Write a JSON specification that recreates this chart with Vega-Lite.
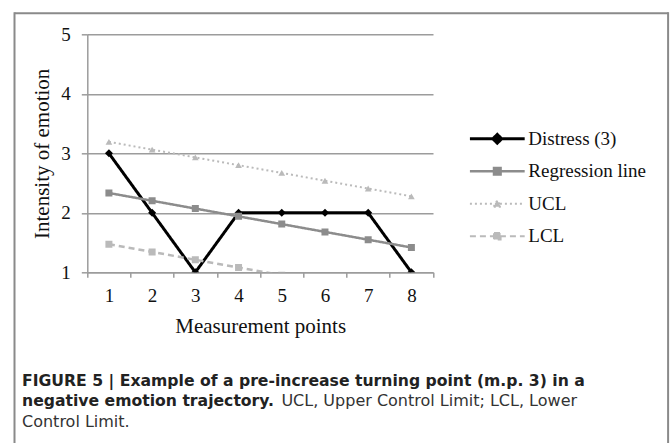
{
  "$schema": "https://vega.github.io/schema/vega-lite/v6.json",
  "width": 345.7,
  "height": 238,
  "autosize": {"type": "none"},
  "padding": {"left": 87.3, "top": 34.3, "right": 239, "bottom": 170.7},
  "background": "white",
  "config": {"view": {"stroke": null}},
  "datasets": {
    "series": [
      {"m": 1, "s": "Distress (3)", "v": 3},
      {"m": 2, "s": "Distress (3)", "v": 2},
      {"m": 3, "s": "Distress (3)", "v": 1},
      {"m": 4, "s": "Distress (3)", "v": 2},
      {"m": 5, "s": "Distress (3)", "v": 2},
      {"m": 6, "s": "Distress (3)", "v": 2},
      {"m": 7, "s": "Distress (3)", "v": 2},
      {"m": 8, "s": "Distress (3)", "v": 1},
      {"m": 1, "s": "Regression line", "v": 2.333},
      {"m": 2, "s": "Regression line", "v": 2.202},
      {"m": 3, "s": "Regression line", "v": 2.071},
      {"m": 4, "s": "Regression line", "v": 1.94},
      {"m": 5, "s": "Regression line", "v": 1.81},
      {"m": 6, "s": "Regression line", "v": 1.679},
      {"m": 7, "s": "Regression line", "v": 1.548},
      {"m": 8, "s": "Regression line", "v": 1.417},
      {"m": 1, "s": "UCL", "v": 3.193},
      {"m": 2, "s": "UCL", "v": 3.062},
      {"m": 3, "s": "UCL", "v": 2.931},
      {"m": 4, "s": "UCL", "v": 2.8},
      {"m": 5, "s": "UCL", "v": 2.67},
      {"m": 6, "s": "UCL", "v": 2.539},
      {"m": 7, "s": "UCL", "v": 2.408},
      {"m": 8, "s": "UCL", "v": 2.277},
      {"m": 1, "s": "LCL", "v": 1.473},
      {"m": 2, "s": "LCL", "v": 1.342},
      {"m": 3, "s": "LCL", "v": 1.211},
      {"m": 4, "s": "LCL", "v": 1.08},
      {"m": 5, "s": "LCL", "v": 0.95},
      {"m": 6, "s": "LCL", "v": 0.819},
      {"m": 7, "s": "LCL", "v": 0.688},
      {"m": 8, "s": "LCL", "v": 0.557}
    ],
    "none": []
  },
  "title": {
    "text": ["FIGURE 5 | Example of a pre-increase turning point (m.p. 3) in a", "negative emotion trajectory."],
    "subtitle": ["\u200b\u00a0\u00a0\u00a0\u00a0\u00a0\u00a0\u00a0\u00a0\u00a0\u00a0\u00a0\u00a0\u00a0\u00a0\u00a0\u00a0\u00a0\u00a0\u00a0\u00a0\u00a0\u00a0\u00a0\u00a0\u00a0\u00a0\u00a0\u00a0\u00a0\u00a0\u00a0\u00a0\u00a0\u00a0\u00a0\u00a0\u00a0\u00a0\u00a0\u00a0\u00a0\u00a0\u00a0\u00a0\u00a0\u00a0\u00a0\u00a0\u00a0\u00a0\u00a0UCL, Upper Control Limit; LCL, Lower", "Control Limit."],
    "orient": "bottom",
    "anchor": "start",
    "frame": "group",
    "dx": -65.3,
    "offset": -92,
    "font": "DejaVu Sans",
    "fontSize": 15.65,
    "fontWeight": "bold",
    "color": "#222222",
    "lineHeight": 20.5,
    "subtitleFont": "DejaVu Sans",
    "subtitleFontSize": 16,
    "subtitleFontWeight": "normal",
    "subtitleColor": "#333333",
    "subtitleLineHeight": 20.5,
    "subtitlePadding": -17
  },
  "layer": [
    {
      "data": {"name": "series"},
      "encoding": {
        "x": {
          "field": "m",
          "type": "ordinal",
          "scale": {"type": "band", "paddingInner": 0, "paddingOuter": 0},
          "axis": {
            "tickBand": "extent",
            "grid": false,
            "domainColor": "#9c9c9c",
            "domainWidth": 1.5,
            "tickColor": "#9c9c9c",
            "tickWidth": 1.5,
            "tickSize": 5,
            "labelAngle": 0,
            "labelFont": "Liberation Serif",
            "labelFontSize": 19,
            "labelColor": "#111111",
            "labelPadding": 9,
            "title": "Measurement points",
            "titleFont": "Liberation Serif",
            "titleFontSize": 21,
            "titleFontWeight": "normal",
            "titleColor": "#111111",
            "titlePadding": 10
          }
        },
        "y": {
          "field": "v",
          "type": "quantitative",
          "scale": {"domain": [1, 5], "nice": false, "zero": false},
          "axis": {
            "values": [1, 2, 3, 4, 5],
            "grid": true,
            "gridColor": "#9c9c9c",
            "gridWidth": 1.5,
            "domainColor": "#9c9c9c",
            "domainWidth": 1.5,
            "tickColor": "#9c9c9c",
            "tickWidth": 1.5,
            "tickSize": 6,
            "labelFont": "Liberation Serif",
            "labelFontSize": 19,
            "labelColor": "#111111",
            "labelPadding": 11,
            "title": "Intensity of emotion",
            "titleFont": "Liberation Serif",
            "titleFontSize": 21,
            "titleFontWeight": "normal",
            "titleColor": "#111111",
            "titlePadding": 8
          }
        },
        "color": {
          "field": "s",
          "type": "nominal",
          "sort": null,
          "scale": {
            "domain": ["Distress (3)", "Regression line", "UCL", "LCL"],
            "range": ["#000000", "#8c8c8c", "#bababa", "#bababa"]
          },
          "legend": {
            "title": null,
            "orient": "none",
            "legendX": 400.5,
            "legendY": 95,
            "labelFont": "Liberation Serif",
            "labelFontSize": 19,
            "labelColor": "#111111",
            "labelOffset": 21.5,
            "symbolSize": 3000,
            "symbolType": "M-1,0L1,0",
            "rowPadding": 12.5,
            "encode": {
              "symbols": {
                "update": {
                  "shape": {"signal": "datum.value === 'Distress (3)' ? 'M-1,0L1,0M-0.16,0L0,-0.16L0.16,0L0,0.16Z' : datum.value === 'UCL' ? 'M-1,0L1,0M-0.13,0.11L0,-0.13L0.13,0.11Z' : 'M-1,0L1,0M-0.12,-0.12L0.12,-0.12L0.12,0.12L-0.12,0.12Z'"},
                  "size": {"value": 3000},
                  "strokeDash": {"signal": "datum.value === 'UCL' ? [2,3] : datum.value === 'LCL' ? [6,4] : [1,0]"},
                  "strokeWidth": {"signal": "datum.value === 'Distress (3)' ? 3 : datum.value === 'Regression line' ? 2.5 : 2"},
                  "stroke": {"signal": "datum.value === 'Distress (3)' ? '#000000' : datum.value === 'Regression line' ? '#8c8c8c' : '#bababa'"},
                  "fill": {"signal": "datum.value === 'Distress (3)' ? '#000000' : datum.value === 'Regression line' ? '#8c8c8c' : '#bababa'"},
                  "opacity": {"value": 1}
                }
              }
            }
          }
        }
      },
      "layer": [
        {
          "mark": {"type": "line", "clip": true},
          "encoding": {
            "strokeDash": {
              "condition": [
                {"test": "datum.s === 'UCL'", "value": [2, 3]},
                {"test": "datum.s === 'LCL'", "value": [6, 4]}
              ],
              "value": [1, 0]
            },
            "strokeWidth": {
              "condition": [
                {"test": "datum.s === 'Distress (3)'", "value": 3},
                {"test": "datum.s === 'UCL'", "value": 2}
              ],
              "value": 2.5
            }
          }
        },
        {
          "mark": {"type": "point", "filled": true, "opacity": 1, "clip": true},
          "encoding": {
            "shape": {
              "condition": [
                {"test": "datum.s === 'Distress (3)'", "value": "diamond"},
                {"test": "datum.s === 'UCL'", "value": "triangle-up"}
              ],
              "value": "square"
            },
            "size": {
              "condition": [
                {"test": "datum.s === 'Distress (3)'", "value": 64},
                {"test": "datum.s === 'UCL'", "value": 45}
              ],
              "value": 49
            }
          }
        }
      ]
    },
    {
      "data": {"name": "none"},
      "mark": {"type": "point", "opacity": 0},
      "encoding": {
        "x": {
          "field": "b",
          "type": "quantitative",
          "scale": {"domain": [0, 1], "range": [-73.3, 580.7]},
          "axis": {"orient": "top", "offset": 21.6, "domainColor": "#8a8a8a", "domainWidth": 2, "ticks": false, "labels": false, "grid": false, "title": null}
        },
        "y": {
          "field": "b",
          "type": "quantitative",
          "scale": {"domain": [0, 1], "range": [409, -22.6]},
          "axis": {"orient": "left", "offset": 73.3, "domainColor": "#8a8a8a", "domainWidth": 2, "ticks": false, "labels": false, "grid": false, "title": null}
        }
      }
    },
    {
      "data": {"name": "none"},
      "mark": {"type": "point", "opacity": 0},
      "encoding": {
        "y": {
          "field": "b",
          "type": "quantitative",
          "scale": {"domain": [0, 1], "range": [409, -22.6]},
          "axis": {"orient": "right", "offset": 234.6, "domainColor": "#8a8a8a", "domainWidth": 2, "ticks": false, "labels": false, "grid": false, "title": null}
        }
      }
    }
  ],
  "resolve": {
    "scale": {"x": "independent", "y": "independent"},
    "axis": {"x": "independent", "y": "independent"}
  }
}
